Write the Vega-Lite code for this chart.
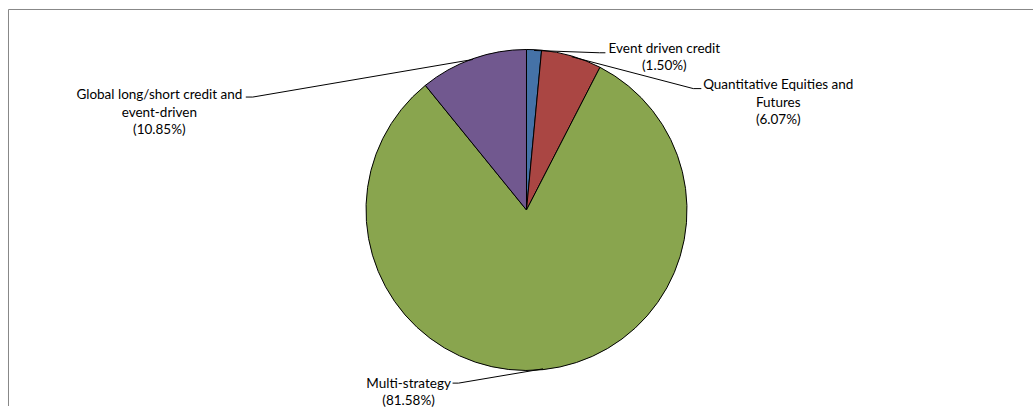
{
  "$schema": "https://vega.github.io/schema/vega-lite/v6.json",
  "width": 1034,
  "height": 408,
  "autosize": {"type": "fit", "contains": "padding"},
  "padding": {"left": 8, "top": 9, "right": 0, "bottom": 0},
  "background": "white",
  "config": {"view": {"stroke": null}, "text": {"font": "Lato"}},
  "datasets": {
    "frame": [{"side": "top"}],
    "slices": [
      {"idx": 1, "name": "Event driven credit", "pct": 1.50, "label": "Event driven credit|(1.50%)", "lx": 138, "ly": 158.2, "ex": 73, "ey": 158, "tx": 79},
      {"idx": 2, "name": "Quantitative Equities and Futures", "pct": 6.07, "label": "Quantitative Equities and|Futures|(6.07%)", "lx": 252, "ly": 121.5, "ex": 167, "ey": 122, "tx": 175},
      {"idx": 3, "name": "Multi-strategy", "pct": 81.58, "label": "Multi-strategy|(81.58%)", "lx": -118, "ly": -178.5, "ex": -68, "ey": -174, "tx": -74},
      {"idx": 4, "name": "Global long/short credit and event-driven", "pct": 10.85, "label": "Global long/short credit and|event-driven|(10.85%)", "lx": -367.5, "ly": 111.5, "ex": -274, "ey": 113.5, "tx": -281}
    ]
  },
  "data": {"name": "slices"},
  "transform": [
    {"window": [{"op": "sum", "field": "pct", "as": "cum"}], "sort": [{"field": "idx"}], "frame": [null, 0]},
    {"calculate": "(datum.cum - datum.pct / 2) / 100 * 2 * PI", "as": "ang"},
    {"calculate": "160.5 * sin(datum.ang)", "as": "sx"},
    {"calculate": "160.5 * cos(datum.ang)", "as": "sy"}
  ],
  "encoding": {
    "x": {"type": "quantitative", "scale": {"domain": [-519, 507], "nice": false, "zero": false}, "axis": null},
    "y": {"type": "quantitative", "scale": {"domain": [-197, 202], "nice": false, "zero": false}, "axis": null}
  },
  "layer": [
    {
      "data": {"name": "frame"},
      "transform": [],
      "mark": {"type": "rule", "color": "#878787", "strokeWidth": 1},
      "encoding": {
        "x": {"datum": -518.5, "type": "quantitative"},
        "y": {"datum": 201.5, "type": "quantitative"},
        "x2": {"datum": 507},
        "y2": {"datum": 201.5}
      }
    },
    {
      "data": {"name": "frame"},
      "transform": [],
      "mark": {"type": "rule", "color": "#878787", "strokeWidth": 1},
      "encoding": {
        "x": {"datum": -518.5, "type": "quantitative"},
        "y": {"datum": 201.5, "type": "quantitative"},
        "x2": {"datum": -518.5},
        "y2": {"datum": -197}
      }
    },
    {
      "mark": {"type": "arc", "outerRadius": 160.5, "stroke": "black", "strokeWidth": 1},
      "encoding": {
        "x": {"datum": 0, "type": "quantitative"},
        "y": {"datum": 0, "type": "quantitative"},
        "theta": {"field": "pct", "type": "quantitative", "stack": true},
        "order": {"field": "idx", "type": "quantitative"},
        "color": {
          "field": "name",
          "type": "nominal",
          "scale": {
            "domain": ["Event driven credit", "Quantitative Equities and Futures", "Multi-strategy", "Global long/short credit and event-driven"],
            "range": ["#4572A7", "#AA4643", "#89A54E", "#71588F"]
          },
          "legend": null
        }
      }
    },
    {
      "mark": {"type": "rule", "color": "black", "strokeWidth": 1},
      "encoding": {
        "x": {"field": "sx", "type": "quantitative"},
        "y": {"field": "sy", "type": "quantitative"},
        "x2": {"field": "ex"},
        "y2": {"field": "ey"}
      }
    },
    {
      "mark": {"type": "rule", "color": "black", "strokeWidth": 1},
      "encoding": {
        "x": {"field": "ex", "type": "quantitative"},
        "y": {"field": "ey", "type": "quantitative"},
        "x2": {"field": "tx"},
        "y2": {"field": "ey"}
      }
    },
    {
      "mark": {"type": "text", "align": "center", "baseline": "alphabetic", "lineBreak": "|", "lineHeight": 17.5, "fontSize": 13.5, "color": "black"},
      "encoding": {
        "x": {"field": "lx", "type": "quantitative"},
        "y": {"field": "ly", "type": "quantitative"},
        "text": {"field": "label"}
      }
    }
  ]
}
